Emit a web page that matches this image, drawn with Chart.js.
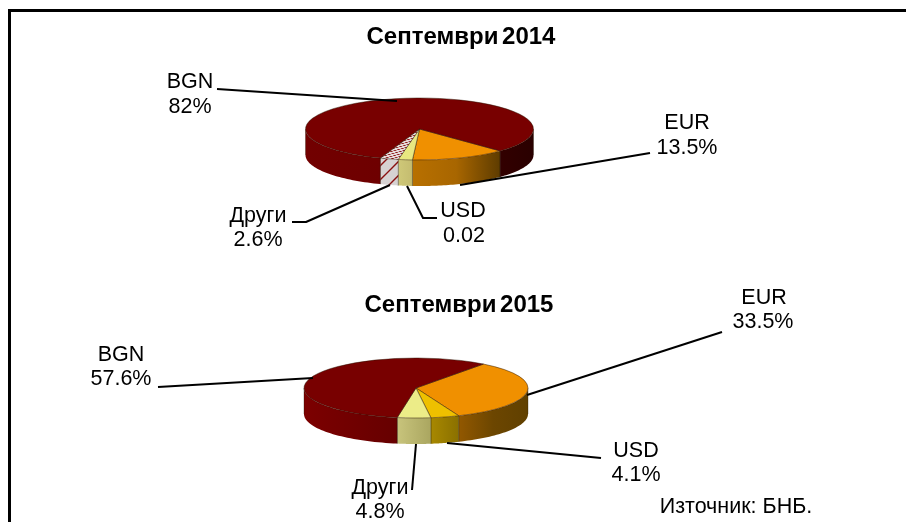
<!DOCTYPE html>
<html>
<head>
<meta charset="utf-8">
<title>Септември 2014 / 2015</title>
<script src="https://cdn.jsdelivr.net/npm/chart.js@4"></script>
<style>
  html, body { margin: 0; padding: 0; background: #fff; overflow: hidden; }
  #wrap { position: relative; width: 906px; height: 522px; }
  #frame { position: absolute; left: 8px; top: 9px; right: 0; bottom: 0;
           border-left: 3px solid #000; border-top: 3px solid #000; }
  canvas { position: absolute; left: 0; top: 0; }
</style>
</head>
<body>
<div id="wrap">
  <div id="frame"></div>
  <canvas id="pie2014" width="906" height="522"></canvas>
  <canvas id="pie2015" width="906" height="522"></canvas>
</div>
<script>
// data
const categories2014 = ['EUR', 'USD', 'Други', 'BGN'];
const values2014 = [13.5, 2, 2.6, 82];
const valueLabels2014 = ['13.5%', '0.02', '2.6%', '82%'];

const categories2015 = ['EUR', 'USD', 'Други', 'BGN'];
const values2015 = [33.5, 4.1, 4.8, 57.6];
const valueLabels2015 = ['33.5%', '4.1%', '4.8%', '57.6%'];

const title2014 = 'Септември 2014';
const title2015 = 'Септември 2015';
const sourceText = 'Източник: БНБ.';

const font = '"Liberation Sans", Arial, sans-serif';

// hatch used for "Други" in the first pie
function hatch(bg, line, size, width) {
    const c = document.createElement('canvas');
    c.width = c.height = size;
    const g = c.getContext('2d');
    g.fillStyle = bg;
    g.fillRect(0, 0, size, size);
    g.strokeStyle = line;
    g.lineWidth = width;
    g.beginPath();
    g.moveTo(-2, size + 2); g.lineTo(size + 2, -2);
    g.moveTo(-2, 2); g.lineTo(2, -2);
    g.moveTo(size - 2, size + 2); g.lineTo(size + 2, size - 2);
    g.stroke();
    return g.createPattern(c, 'repeat');
}

// draws walls, squashes the pie into an ellipse, then texts and leader lines on top
const pie3d = {
    id: 'pie3d',
    beforeDatasetsDraw(chart, args, opts) {
        const ctx = chart.ctx;
        const arcs = chart.getDatasetMeta(0).data;
        const squash = opts.ry / arcs[0].outerRadius;
        ctx.save();
        arcs.forEach((arc, i) => {
            const { x, y, startAngle, endAngle, outerRadius: r } = arc.getProps(['x', 'y', 'startAngle', 'endAngle', 'outerRadius']);
            let seg = 0;
            for (let k = -1; k < 3; k++) {
                const a1 = Math.max(startAngle, k * 2 * Math.PI);
                const a2 = Math.min(endAngle, k * 2 * Math.PI + Math.PI);
                if (a2 <= a1) continue;
                const xa = x + r * Math.cos(a1), xb = x + r * Math.cos(a2);
                const colors = opts.walls[i][seg++];
                let fill = colors;
                if (Array.isArray(colors)) {
                    fill = ctx.createLinearGradient(Math.min(xa, xb), 0, Math.max(xa, xb), 0);
                    colors.forEach((c, n) => fill.addColorStop(n / (colors.length - 1), c));
                }
                ctx.beginPath();
                for (let t = 0; t <= 40; t++) {
                    const a = a1 + (a2 - a1) * t / 40;
                    ctx.lineTo(x + r * Math.cos(a), y + opts.ry * Math.sin(a));
                }
                for (let t = 40; t >= 0; t--) {
                    const a = a1 + (a2 - a1) * t / 40;
                    ctx.lineTo(x + r * Math.cos(a), y + opts.depth + opts.ry * Math.sin(a));
                }
                ctx.closePath();
                ctx.fillStyle = fill;
                ctx.fill();
                ctx.strokeStyle = 'rgba(30,20,0,0.45)';
                ctx.lineWidth = 0.7;
                ctx.beginPath();
                ctx.moveTo(xa, y + opts.ry * Math.sin(a1));
                ctx.lineTo(xa, y + opts.depth + opts.ry * Math.sin(a1));
                ctx.moveTo(xb, y + opts.ry * Math.sin(a2));
                ctx.lineTo(xb, y + opts.depth + opts.ry * Math.sin(a2));
                ctx.stroke();
            }
        });
        ctx.translate(arcs[0].x, arcs[0].y);
        ctx.scale(1, squash);
        ctx.translate(-arcs[0].x, -arcs[0].y);
    },
    afterDatasetsDraw(chart) {
        chart.ctx.restore();
    },
    afterDraw(chart, args, opts) {
        const ctx = chart.ctx;
        ctx.save();
        ctx.strokeStyle = '#000';
        ctx.lineWidth = 2;
        ctx.lineJoin = 'round';
        opts.leaders.forEach(pts => {
            ctx.beginPath();
            pts.forEach(p => ctx.lineTo(p[0], p[1]));
            ctx.stroke();
        });
        ctx.textAlign = 'center';
        ctx.textBaseline = 'middle';
        ctx.fillStyle = '#000';
        ctx.font = 'bold 24px ' + font;
        ctx.wordSpacing = '-3px';
        ctx.fillText(opts.title, opts.titlePos[0], opts.titlePos[1]);
        ctx.wordSpacing = '0px';
        ctx.font = '21.5px ' + font;
        const labels = chart.data.labels;
        opts.labelPos.forEach((p, i) => {
            ctx.fillText(labels[i], p[0], p[1]);
            ctx.fillText(opts.valueLabels[i], p[2], p[3]);
        });
        if (opts.note) ctx.fillText(opts.note, opts.notePos[0], opts.notePos[1]);
        ctx.restore();
    }
};

function makePie(id, labels, values, colors, box, plugin3d) {
    return new Chart(document.getElementById(id), {
        type: 'pie',
        data: {
            labels: labels,
            datasets: [{
                data: values,
                backgroundColor: colors,
                borderColor: 'rgba(40,20,0,0.75)',
                borderWidth: 1,
                hoverOffset: 0
            }]
        },
        options: {
            responsive: false,
            animation: false,
            events: [],
            rotation: box.rotation,
            layout: {
                padding: {
                    left: box.cx - box.r,
                    right: 906 - box.cx - box.r,
                    top: box.cy - box.r,
                    bottom: 522 - box.cy - box.r
                }
            },
            plugins: {
                legend: { display: false },
                tooltip: { enabled: false },
                pie3d: plugin3d
            }
        },
        plugins: [pie3d]
    });
}

makePie('pie2014', categories2014, values2014,
    ['#f09000', '#e8e880', hatch('#e6dcdc', '#8a1010', 9, 1.6), '#780000'],
    { cx: 419.5, cy: 129, r: 114.5, rotation: 135 },
    {
        ry: 31, depth: 26,
        title: title2014, titlePos: [461, 37],
        valueLabels: valueLabels2014,
        walls: [
            [['#b87000', '#a86600', '#5e3c00']],
            [['#cfc878', '#c4bc70']],
            [hatch('#d6d2d2', '#8a1010', 14, 1.4)],
            [['#720000', '#6e0000'], ['#320000', '#2a0000']]
        ],
        labelPos: [[687, 123, 687, 148], [463, 211, 464, 236], [258, 216, 258, 240], [190, 82, 190, 107]],
        leaders: [
            [[650, 153], [460, 185]],
            [[407, 186], [423, 218], [437, 218]],
            [[390, 185], [306, 222], [292, 222]],
            [[217, 89], [397, 101]]
        ]
    });

makePie('pie2015', categories2015, values2015,
    ['#f09000', '#eec000', '#ecec88', '#780000'],
    { cx: 416, cy: 388, r: 112.5, rotation: 37 },
    {
        ry: 30, depth: 26,
        title: title2015, titlePos: [459, 305],
        valueLabels: valueLabels2015,
        note: sourceText, notePos: [736, 507],
        walls: [
            [['#925800', '#6c4600', '#604000']],
            [['#a88800', '#8a7000']],
            [['#c8c47c', '#aaa660']],
            [['#7c0000', '#660000']]
        ],
        labelPos: [[764, 298, 763, 322], [636, 451, 636, 475], [380, 488, 380, 512], [121, 355, 121, 379]],
        leaders: [
            [[722, 332], [527, 395]],
            [[601, 458], [447, 443]],
            [[416, 444], [412, 490]],
            [[158, 387], [313, 378]]
        ]
    });
</script>
</body>
</html>
